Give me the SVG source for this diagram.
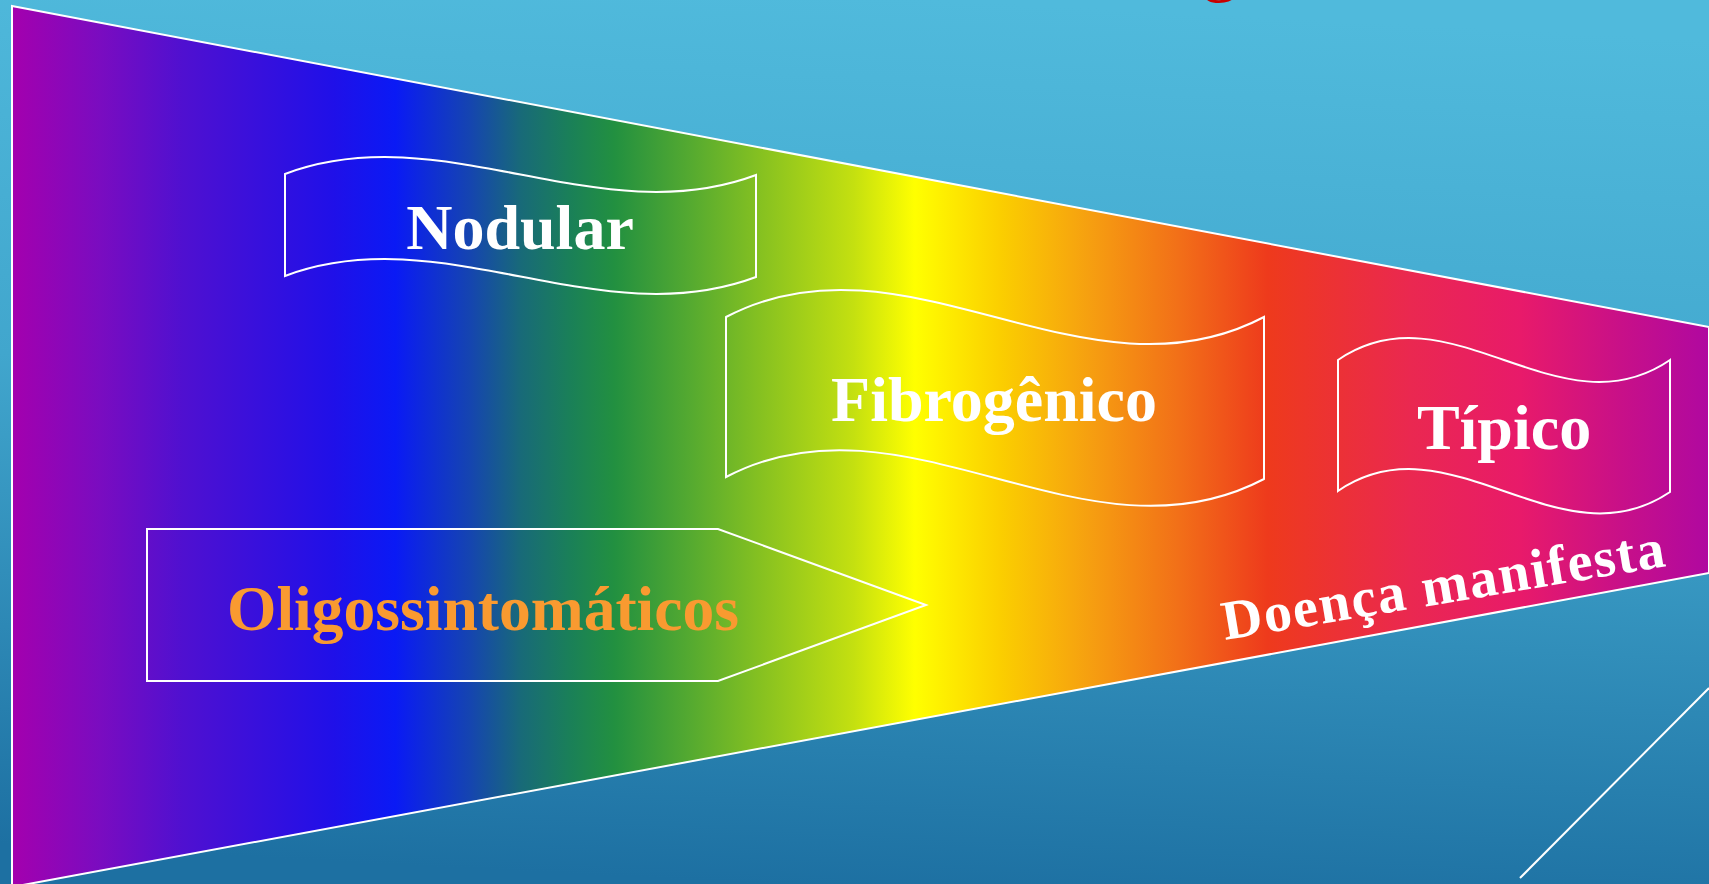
<svg xmlns="http://www.w3.org/2000/svg" width="1709" height="884" viewBox="0 0 1709 884">
<defs>
<linearGradient id="bg" x1="0.55" y1="0" x2="0.45" y2="1">
<stop offset="0" stop-color="#50badc"/>
<stop offset="0.45" stop-color="#41a6cd"/>
<stop offset="1" stop-color="#1d70a2"/>
</linearGradient>
<linearGradient id="rainbow" gradientUnits="userSpaceOnUse" x1="12" y1="0" x2="1709" y2="0">
<stop offset="0" stop-color="#a400ae"/>
<stop offset="0.052" stop-color="#7a0cc0"/>
<stop offset="0.1" stop-color="#5010d0"/>
<stop offset="0.189" stop-color="#2010e8"/>
<stop offset="0.226" stop-color="#0a1af5"/>
<stop offset="0.27" stop-color="#1545b0"/>
<stop offset="0.3" stop-color="#186a78"/>
<stop offset="0.329" stop-color="#1a8058"/>
<stop offset="0.355" stop-color="#229040"/>
<stop offset="0.4" stop-color="#55aa30"/>
<stop offset="0.443" stop-color="#88c220"/>
<stop offset="0.496" stop-color="#c4e010"/>
<stop offset="0.532" stop-color="#ffff00"/>
<stop offset="0.582" stop-color="#fbcf00"/>
<stop offset="0.634" stop-color="#f6a010"/>
<stop offset="0.687" stop-color="#f27018"/>
<stop offset="0.74" stop-color="#ee3a1c"/>
<stop offset="0.824" stop-color="#ea2850"/>
<stop offset="0.889" stop-color="#e81a6a"/>
<stop offset="0.948" stop-color="#c81088"/>
<stop offset="1" stop-color="#b008a0"/>
</linearGradient>
</defs>
<style>
.outline{fill:none;stroke:#ffffff;stroke-width:2;stroke-linejoin:miter}
.lbl{font-family:"Liberation Serif","Times New Roman",serif;font-weight:bold;font-size:64px;fill:#ffffff}
.mid{text-anchor:middle}
</style>
<rect x="0" y="0" width="1709" height="884" fill="url(#bg)"/>
<text x="1220" y="-12" font-family="Liberation Serif, serif" font-size="72" fill="#c80000" text-anchor="middle">g</text>
<g id="funnel">
<polygon points="12,6 1709,327 1709,573 12,887" fill="url(#rainbow)" stroke="#ffffff" stroke-width="2"/>
</g>
<g id="connectors">
<line x1="1520" y1="878" x2="1709" y2="688" stroke="#ffffff" stroke-width="2"/>
</g>
<g id="node-nodular">
<path class="outline" d="M285,174 C442,115 599,234 756,175 L756,277 C599,336 442,217 285,276 Z"/>
<text class="lbl mid" x="520" y="249">Nodular</text>
</g>
<g id="node-fibrogenico">
<path class="outline" d="M726,317 C905,223 1085,411 1264,317 L1264,479 C1085,573 905,383 726,477 Z"/>
<text class="lbl mid" x="994" y="421">Fibrogênico</text>
</g>
<g id="node-tipico">
<path class="outline" d="M1338,360 C1449,284 1559,436 1670,360 L1670,492 C1559,567 1449,415 1338,491 Z"/>
<text class="lbl mid" x="1504" y="449">Típico</text>
</g>
<g id="node-oligo">
<polygon class="outline" points="147,529 718,529 926,605 718,681 147,681"/>
<text class="lbl" x="227" y="630" style="fill:#f99a30" textLength="512" lengthAdjust="spacingAndGlyphs">Oligossintomáticos</text>
</g>
<g id="label-doenca">
<text class="lbl" transform="translate(1225,640) rotate(-9.5)" style="font-size:56px" textLength="448" lengthAdjust="spacing">Doença manifesta</text>
</g>
</svg>
